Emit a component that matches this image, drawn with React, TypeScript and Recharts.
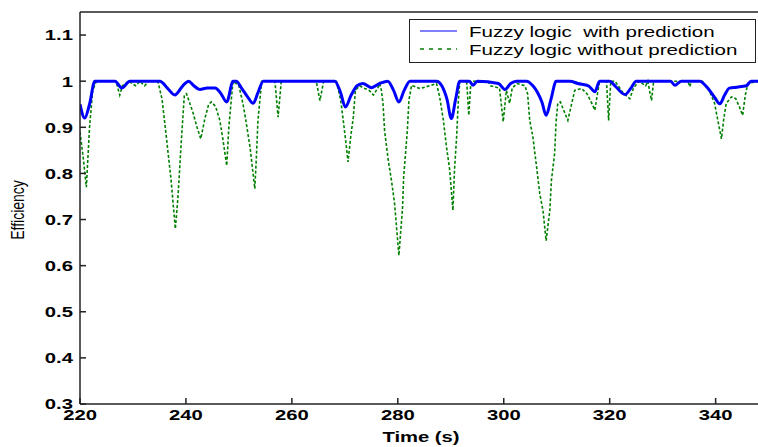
import { LineChart, Line, XAxis, YAxis } from "recharts";

// fuzzy logic with prediction (blue)
const withTimes = [
  220, 220.9, 221.8, 222.8, 226.6, 227.9, 229.4, 235.1, 236.5, 237.9, 239.4, 240.5,
  241.5, 242.6, 244, 245.5, 246.5, 247.7, 248.9, 249.5, 250.5, 251.7, 252.7, 253.6,
  254.6, 268.1, 269.2, 270.1, 271.2, 272.3, 273.4, 275, 276.6, 278.1, 279.2, 280.2,
  281.2, 282.3, 287.3, 288.3, 289.3, 290.1, 290.9, 291.7, 293.5, 294.2, 295, 299,
  300.2, 301.3, 302.4, 304.3, 305.5, 306.4, 307.2, 308, 308.9, 309.9, 312.5, 314,
  316, 317.2, 318.1, 320, 321, 322.9, 324, 325, 331.5, 332.3, 333.5, 337, 338.5,
  339.8, 340.8, 341.7, 342.6, 344, 345.8, 346.7, 348,
];
const withValues = [
  0.95, 0.92, 0.95, 1.0, 1.0, 0.985, 1.0, 1.0, 0.985, 0.97, 0.99, 1.0,
  0.99, 0.982, 0.985, 0.985, 0.975, 0.955, 1.0, 1.0, 0.985, 0.965, 0.952, 0.975,
  1.0, 1.0, 0.975, 0.944, 0.97, 0.99, 0.995, 0.986, 0.995, 1.0, 0.98, 0.955,
  0.98, 1.0, 1.0, 0.99, 0.96, 0.919, 0.96, 1.0, 1.0, 0.991, 1.0, 0.995,
  0.982, 0.995, 1.0, 1.0, 0.99, 0.975, 0.955, 0.926, 0.96, 1.0, 1.0, 0.995,
  0.99, 0.977, 1.0, 1.0, 0.99, 0.971, 0.985, 1.0, 1.0, 0.991, 1.0, 1.0, 0.985,
  0.965, 0.951, 0.97, 0.985, 0.987, 0.99, 1.0, 1.0,
];

// fuzzy logic without prediction (green, dashed)
const withoutTimes = [
  220, 220.6, 221.2, 221.8, 222.4, 223.1, 226.8, 227.5, 228, 229.2, 230.5, 231.3,
  232.2, 233, 234.7, 235.5, 236.3, 237.2, 238, 238.5, 239.1, 239.7, 240.1, 241.3,
  242.1, 242.8, 243.6, 244.3, 244.8, 245.6, 246.4, 247, 247.7, 248.1, 248.5, 248.9,
  250, 250.6, 251.1, 252.1, 253, 253.3, 253.6, 254.3, 256.8, 257.4, 258, 264.6,
  265.3, 266, 268.4, 269.2, 269.7, 270.3, 270.6, 271.1, 271.6, 272, 272.8, 273.6,
  274.6, 275.4, 276.2, 276.6, 276.9, 277.2, 277.5, 278.2, 278.8, 279.4, 280.2, 280.9,
  281.1, 281.8, 282.1, 282.6, 284.2, 286, 287.3, 287.9, 288.6, 289.2, 289.8, 290.4,
  290.7, 291.1, 291.4, 291.7, 293, 293.4, 293.8, 297, 297.5, 299.2, 299.9, 300.5,
  301.1, 301.6, 302.5, 304, 304.5, 304.9, 305.5, 306.2, 306.8, 307.4, 308, 308.7,
  309, 309.6, 309.9, 310.2, 310.7, 311.2, 312.1, 312.8, 313.4, 314.7, 315.7, 316.5,
  317.2, 317.7, 318.1, 319.4, 319.8, 320.2, 321, 322.5, 323.8, 324.5, 325.5, 326.8,
  327.2, 327.6, 327.9, 328.3, 334.8, 335.1, 335.5, 337.5, 338.9, 339.8, 340.3, 341.1,
  341.5, 342, 343, 343.8, 344.5, 345.1, 345.6, 346.1, 348,
];
const withoutValues = [
  0.89, 0.835, 0.77, 0.9, 0.98, 1.0, 1.0, 0.97, 0.99, 1.0, 0.99, 1.0,
  0.99, 1.0, 1.0, 0.96, 0.879, 0.785, 0.68, 0.749, 0.865, 0.97, 0.973, 0.933,
  0.9, 0.875, 0.92, 0.95, 0.955, 0.945, 0.915, 0.872, 0.817, 0.9, 0.952, 1.0,
  0.99, 0.96, 0.93, 0.857, 0.767, 0.835, 0.915, 1.0, 1.0, 0.922, 1.0, 1.0,
  0.958, 1.0, 1.0, 0.96, 0.915, 0.857, 0.825, 0.879, 0.922, 0.98, 0.99, 0.985,
  0.98, 0.97, 0.985, 0.995, 0.98, 0.952, 0.893, 0.828, 0.785, 0.734, 0.622, 0.727,
  0.792, 0.893, 0.959, 0.991, 0.984, 0.99, 0.995, 0.966, 0.915, 0.857, 0.807, 0.72,
  0.807, 0.879, 0.952, 1.0, 1.0, 0.926, 1.0, 1.0, 0.99, 0.985, 0.912, 0.98,
  0.952, 0.985, 0.995, 0.99, 0.973, 0.915, 0.879, 0.814, 0.756, 0.72, 0.654, 0.72,
  0.785, 0.843, 0.915, 0.952, 0.955, 0.94, 0.915, 0.95, 0.98, 0.984, 0.973, 0.955,
  0.937, 0.973, 1.0, 1.0, 0.915, 1.0, 1.0, 0.975, 0.962, 0.985, 1.0, 0.99,
  1.0, 0.975, 0.958, 1.0, 1.0, 0.988, 1.0, 1.0, 0.977, 0.952, 0.922, 0.875,
  0.915, 0.952, 0.966, 0.962, 0.944, 0.926, 0.97, 0.995, 1.0,
];

const xTicks = [220, 240, 260, 280, 300, 320, 340];
const yTicks = [0.3, 0.4, 0.5, 0.6, 0.7, 0.8, 0.9, 1, 1.1];

const withData = withTimes.map((t, i) => ({ t, v: withValues[i] }));
const withoutData = withoutTimes.map((t, i) => ({ t, v: withoutValues[i] }));

const font = "'Liberation Sans', Arial, sans-serif";
// the original figure is stretched sideways, so text is widened to match
const STRETCH = 1.35;

const XTick = ({ x, y, payload }: any) => (
  <text
    transform={`translate(${x},${y}) scale(${STRETCH},1)`}
    textAnchor="middle"
    dy="0.71em"
    style={{ fill: "#000", fontSize: 15, fontWeight: "bold", fontFamily: font }}
  >
    {payload.value}
  </text>
);

const YTick = ({ x, y, payload }: any) => (
  <text
    transform={`translate(${x},${y}) scale(${STRETCH},1)`}
    textAnchor="end"
    dy="0.36em"
    style={{ fill: "#000", fontSize: 15, fontWeight: "bold", fontFamily: font }}
  >
    {String(Math.round(payload.value * 10) / 10)}
  </text>
);

export default function App() {
  return (
    <div style={{ position: "fixed", left: 0, top: 0, width: 758, height: 447, background: "#fff" }}>
      <LineChart width={758} height={447} margin={{ top: 0, right: 0, bottom: 0, left: 0 }}>
        <XAxis
          xAxisId="top"
          orientation="top"
          type="number"
          dataKey="t"
          domain={[220, 348]}
          ticks={xTicks}
          height={12}
          tickSize={-6}
          tick={false}
          stroke="#222"
          strokeWidth={1.5}
          allowDataOverflow
        />
        <XAxis
          type="number"
          dataKey="t"
          domain={[220, 348]}
          ticks={xTicks}
          height={43}
          tickSize={-6}
          tickMargin={11}
          tick={<XTick />}
          stroke="#222"
          strokeWidth={1.5}
          allowDataOverflow
          label={{
            content: () => (
              <text
                transform={`translate(421,442) scale(${STRETCH},1)`}
                textAnchor="middle"
                style={{ fill: "#000", fontSize: 15, fontWeight: "bold", fontFamily: font }}
              >
                Time (s)
              </text>
            ),
          }}
        />
        <YAxis
          type="number"
          domain={[0.3, 1.15]}
          ticks={yTicks}
          width={80}
          tickSize={-6}
          tickMargin={13}
          tick={<YTick />}
          stroke="#222"
          strokeWidth={1.5}
          allowDataOverflow
          label={{
            content: () => (
              <text
                transform={`translate(18,210) rotate(-90) scale(1,${STRETCH})`}
                textAnchor="middle"
                dominantBaseline="central"
                style={{ fill: "#000", fontSize: 14, fontFamily: font }}
              >
                Efficiency
              </text>
            ),
          }}
        />
        <Line
          data={withoutData}
          dataKey="v"
          type="linear"
          stroke="#008000"
          strokeWidth={1.6}
          strokeDasharray="3 2"
          dot={false}
          activeDot={false}
          isAnimationActive={false}
        />
        <Line
          data={withData}
          dataKey="v"
          type="monotone"
          stroke="#0000ff"
          strokeWidth={3}
          dot={false}
          activeDot={false}
          isAnimationActive={false}
        />
      </LineChart>
      <div
        style={{
          position: "absolute",
          left: 409,
          top: 19,
          width: 345,
          height: 40,
          border: "1px solid #222",
          background: "#fff",
          fontFamily: font,
          fontSize: 15,
          color: "#000",
          padding: "2px 0 0 0",
          boxSizing: "content-box",
        }}
      >
        <div style={{ display: "flex", alignItems: "center", height: 18 }}>
          <svg width={59} height={18}>
            <line x1={10} x2={47} y1={9} y2={9} stroke="#0000ff" strokeWidth={1.2} />
          </svg>
          <span style={{ whiteSpace: "pre", display: "inline-block", transform: "scaleX(1.37)", transformOrigin: "left center" }}>
            Fuzzy logic  with prediction
          </span>
        </div>
        <div style={{ display: "flex", alignItems: "center", height: 18 }}>
          <svg width={59} height={18}>
            <line x1={10} x2={47} y1={9} y2={9} stroke="#008000" strokeWidth={1.5} strokeDasharray="4 5" />
          </svg>
          <span style={{ whiteSpace: "pre", display: "inline-block", transform: "scaleX(1.37)", transformOrigin: "left center" }}>
            Fuzzy logic without prediction
          </span>
        </div>
      </div>
    </div>
  );
}
